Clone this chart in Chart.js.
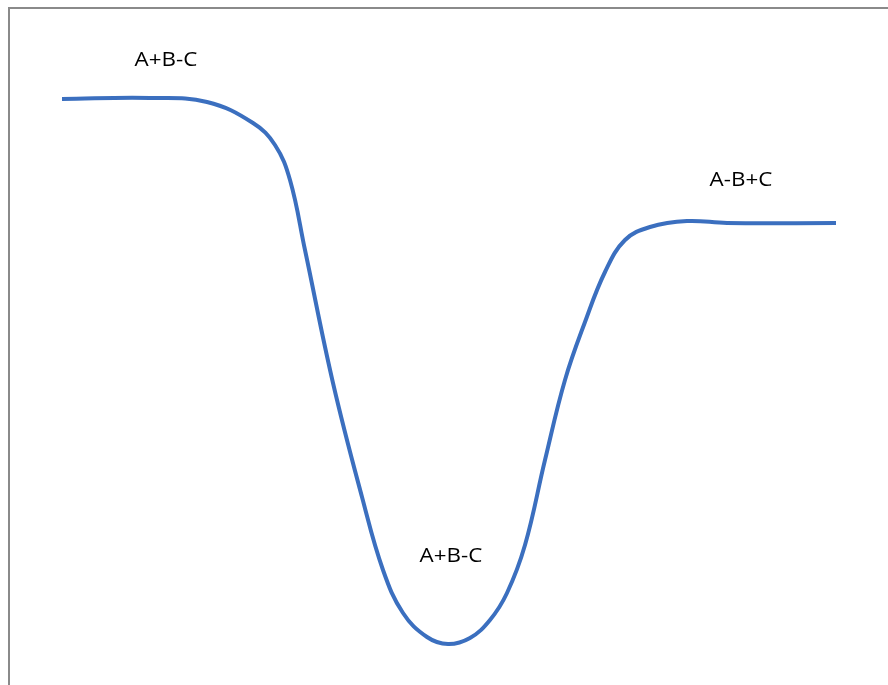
<!DOCTYPE html>
<html>
<head>
<meta charset="utf-8">
<script src="https://cdn.jsdelivr.net/npm/chart.js@4.4.1/dist/chart.umd.min.js"></script>
<style>
  html, body { margin: 0; padding: 0; background: #fff; }
  #wrap { width: 888px; height: 685px; }
</style>
</head>
<body>
<div id="wrap"><canvas id="energy-chart" width="888" height="685"></canvas></div>
<script>
// reaction coordinate (x) and energy (y)
const coordX = [62, 150, 207, 253, 275, 290, 305, 333, 362, 383, 403, 427, 448, 470, 490, 507, 525, 545, 565, 585, 605, 625, 650, 687, 727, 836];
const energy = [586, 587, 583, 562, 540, 505, 435, 302, 188, 115, 72, 48, 41, 47, 65, 92, 140, 225, 305, 363, 413, 445, 458, 464, 462, 462];

// state labels and where they sit
const stateLabels = ['A+B-C', 'A+B-C', 'A-B+C'];
const labelX = [166, 451, 741];
const labelY = [625, 129, 505];

const points = coordX.map((x, i) => ({ x: x, y: energy[i] }));

// frame lines + state labels
const framePlugin = {
    id: 'frame',
    afterDraw(chart) {
        const ctx = chart.ctx;
        const xs = chart.scales.x;
        const ys = chart.scales.y;
        ctx.save();
        ctx.strokeStyle = '#8a8a8a';
        ctx.lineWidth = 2;
        ctx.beginPath();
        ctx.moveTo(9, 685);
        ctx.lineTo(9, 8);
        ctx.lineTo(888, 8);
        ctx.stroke();

        ctx.fillStyle = '#000';
        ctx.font = '20px "Open Sans"';
        ctx.textAlign = 'center';
        ctx.textBaseline = 'middle';
        stateLabels.forEach((t, i) => {
            const px = xs.getPixelForValue(labelX[i]);
            const py = ys.getPixelForValue(labelY[i]);
            ctx.save();
            ctx.translate(px, py);
            ctx.scale(1.12, 1);
            ctx.fillText(t, 0, 0);
            ctx.restore();
        });
        ctx.restore();
    }
};

new Chart(document.getElementById('energy-chart'), {
    type: 'line',
    data: {
        datasets: [{
            data: points,
            borderColor: '#3b6fbf',
            borderWidth: 4,
            pointRadius: 0,
            tension: 0.4,
            fill: false
        }]
    },
    options: {
        responsive: false,
        animation: false,
        layout: { padding: 0 },
        plugins: {
            legend: { display: false },
            tooltip: { enabled: false }
        },
        scales: {
            x: { type: 'linear', min: 0, max: 888, display: false },
            y: { type: 'linear', min: 0, max: 685, display: false }
        }
    },
    plugins: [framePlugin]
});
</script>
</body>
</html>
